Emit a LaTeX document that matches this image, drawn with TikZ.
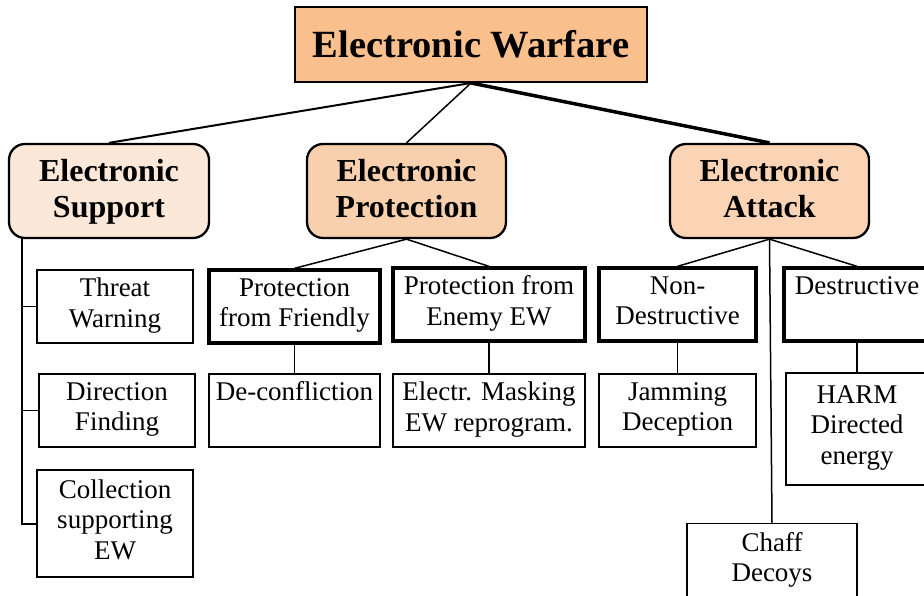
\documentclass[tikz,border=0pt]{standalone}
\usepackage{fontspec}
\setmainfont{Liberation Serif}
\definecolor{topfill}{HTML}{F9BF8C}
\definecolor{esfill}{HTML}{FCE8D8}
\definecolor{epfill}{HTML}{F9D0AE}
\definecolor{eafill}{HTML}{FAD4B4}
\newcommand{\catstrut}{\rule[-6pt]{0pt}{29pt}}
\newcommand{\leafstrut}{\rule[-8pt]{0pt}{22.5pt}}
\tikzset{
  topbox/.style={draw, line width=2pt, fill=topfill, inner sep=0pt, align=center,
    font=\fontsize{38.5}{44}\selectfont\bfseries},
  catbox/.style={draw, line width=2.3pt, rounded corners=16pt, inner sep=0pt, align=center,
    minimum width=199pt, minimum height=94pt, font=\fontsize{32}{36}\selectfont\bfseries},
  leafbox/.style={draw, line width=1.5pt, fill=white, inner sep=0pt, align=center,
    font=\fontsize{27}{30.5}\selectfont},
  subbox/.style={leafbox, line width=3.3pt},
  conn/.style={line width=1.5pt},
}
\begin{document}
\begin{tikzpicture}[x=1pt,y=-1pt]
\useasboundingbox (0,0) rectangle (924,596);
\clip (0,0) rectangle (924,596);
% top
\node[topbox, minimum width=352pt, minimum height=75pt] (ew) at (471,44.5) {Electronic Warfare};
% categories
\node[catbox, fill=esfill, minimum width=200pt] (es) at (109,191) {\catstrut Electronic\\Support\catstrut};
\node[catbox, fill=epfill] (ep) at (406.5,191) {\catstrut Electronic\\Protection\catstrut};
\node[catbox, fill=eafill] (ea) at (769.5,191) {\catstrut Electronic\\Attack\catstrut};
% support leaves
\node[leafbox, minimum width=156pt, minimum height=73pt] (tw) at (115,306.5) {\leafstrut Threat\\Warning\leafstrut};
\node[leafbox, minimum width=156pt, minimum height=73pt] (df) at (117,410.5) {\leafstrut Direction\\Finding\leafstrut};
\node[leafbox, minimum width=156pt, minimum height=107pt] (cs) at (115,523.5) {\leafstrut Collection\\supporting\\EW\leafstrut};
% protection
\node[subbox, minimum width=171pt, minimum height=73pt] (pff) at (294.5,306.5) {\leafstrut Protection\\from Friendly\leafstrut};
\node[leafbox, minimum width=171pt, minimum height=73pt] (dec) at (294.5,410.5) {\leafstrut De-confliction\\\leafstrut};
\node[subbox, minimum width=192pt, minimum height=73pt] (pfe) at (489,304.5) {\leafstrut Protection from\\Enemy EW\leafstrut};
\node[leafbox, minimum width=192pt, minimum height=73pt] (em) at (489,410.5) {\leafstrut Electr. Masking\\EW reprogram.\leafstrut};
% attack
\node[subbox, minimum width=157pt, minimum height=73pt] (nd) at (677.5,304.5) {\leafstrut Non-\\Destructive\leafstrut};
\node[leafbox, minimum width=157pt, minimum height=73pt] (jd) at (677.5,410.5) {\leafstrut Jamming\\Deception\leafstrut};
\node[subbox, minimum width=146pt, minimum height=73pt] (de) at (857,304.5) {\leafstrut Destructive\\\leafstrut};
\node[leafbox, minimum width=142pt, minimum height=112pt] (harm) at (857,429) {\leafstrut HARM\\Directed\\energy\leafstrut};
\node[leafbox, minimum width=170pt, minimum height=75pt] (ch) at (772,561) {\leafstrut Chaff\\Decoys\leafstrut};
% connectors top
\draw[line width=2pt] (ew.south) -- (es.north);
\draw[conn] (ew.south) -- (ep.north);
\draw[line width=3.5pt] (ew.south) -- (ea.north);
% support
\coordinate (esl) at (22,238);
\draw[line width=2pt] (esl) |- (cs.west);
\draw[conn] (tw.west) -- (tw.west -| esl);
\draw[conn] (df.west) -- (df.west -| esl);
% protection
\draw[conn] (ep.south) -- (pff.north);
\draw[conn] (ep.south) -- (pfe.north);
\draw[conn] (pff.south) -- (dec.north);
\draw[conn] (pfe.south) -- (em.north);
% attack
\draw[conn] (ea.south) -- (nd.north);
\draw[conn] (ea.south) -- (de.north);
\draw[conn] (ea.south) -- (ch.north);
\draw[conn] (nd.south) -- (jd.north);
\draw[conn] (de.south) -- (harm.north);
\end{tikzpicture}
\end{document}
